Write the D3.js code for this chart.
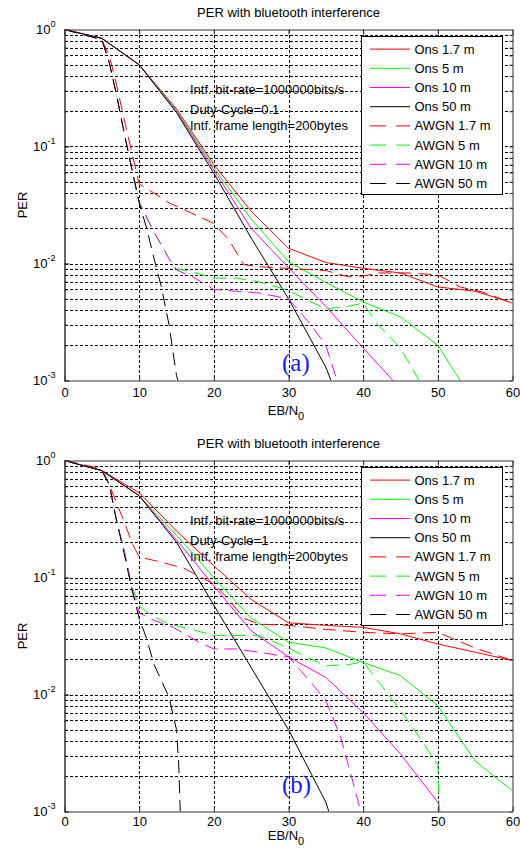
<!DOCTYPE html>
<html>
<head>
<meta charset="utf-8">
<script src="https://cdn.jsdelivr.net/npm/d3@7"></script>
<style>
  body { margin: 0; background: #fff; }
  svg { display: block; font-family: Arial, "Liberation Sans", sans-serif; }
</style>
</head>
<body>
<svg id="chart" width="520" height="850"></svg>
<script>
// axis values
const xTicks = [0, 10, 20, 30, 40, 50, 60];
const yDecades = [1e-3, 1e-2, 1e-1, 1];
const chartTitle = "PER with bluetooth interference";
const legendLabels = ["Ons 1.7 m", "Ons 5 m", "Ons 10 m", "Ons 50 m",
    "AWGN 1.7 m", "AWGN 5 m", "AWGN 10 m", "AWGN 50 m"];
const notesA = ["Intf. bit-rate=1000000bits/s", "Duty-Cycle=0.1", "Intf. frame length=200bytes"];
const notesB = ["Intf. bit-rate=1000000bits/s", "Duty-Cycle=1", "Intf. frame length=200bytes"];

// panel (a): [EB/N0, PER]
const perA_ons17 = [[0,1],[5,0.84],[10,0.5],[15,0.21],[20,0.07],[25,0.028],[30,0.0135],[35,0.0102],[40,0.0091],[45,0.0083],[50,0.0063],[55,0.0058],[60,0.0046]];
const perA_ons5 = [[0,1],[5,0.84],[10,0.5],[15,0.205],[20,0.066],[25,0.024],[30,0.0104],[35,0.0069],[40,0.0047],[45,0.0035],[50,0.002],[53,0.001]];
const perA_ons10 = [[0,1],[5,0.84],[10,0.5],[15,0.2],[20,0.063],[25,0.02],[30,0.0092],[35,0.0043],[40,0.0019],[44,0.001]];
const perA_ons50 = [[0,1],[5,0.84],[10,0.5],[15,0.195],[20,0.059],[25,0.0165],[30,0.005],[35,0.0013],[35.7,0.001]];
const perA_awgn17 = [[0,1],[5,0.82],[6,0.6],[7,0.33],[8,0.17],[9,0.09],[10,0.048],[12,0.04],[14,0.033],[17,0.027],[20,0.022],[22,0.016],[24,0.0098],[26,0.0094],[31,0.009],[35,0.0087],[38,0.0077],[40,0.0078],[42,0.0083],[46,0.0083],[50,0.008],[53,0.0063],[56,0.0057],[60,0.0046]];
const perA_awgn5 = [[0,1],[5,0.82],[6,0.52],[7,0.27],[8,0.13],[9,0.066],[10,0.034],[12,0.0185],[14,0.011],[15,0.009],[17,0.0085],[20,0.0075],[23,0.0075],[26,0.007],[30,0.0059],[33,0.0047],[35,0.0041],[38,0.0043],[40,0.0046],[42,0.003],[45,0.0019],[47.5,0.001]];
const perA_awgn10 = [[0,1],[5,0.82],[6,0.52],[7,0.27],[8,0.13],[9,0.065],[10,0.033],[12,0.0185],[14,0.011],[15,0.0088],[17,0.0078],[20,0.006],[26,0.0056],[30,0.005],[33,0.003],[35,0.002],[36.5,0.001]];
const perA_awgn50 = [[0,1],[5,0.82],[6,0.52],[7,0.27],[8,0.13],[9,0.065],[10,0.033],[11,0.02],[12,0.011],[13,0.0062],[14,0.003],[15,0.0011],[15.2,0.001]];

// panel (b)
const perB_ons17 = [[0,1],[5,0.82],[10,0.53],[15,0.25],[20,0.126],[25,0.065],[30,0.041],[35,0.039],[40,0.0375],[45,0.033],[50,0.027],[55,0.023],[60,0.0195]];
const perB_ons5 = [[0,1],[5,0.82],[10,0.5],[15,0.23],[20,0.1],[25,0.045],[30,0.028],[35,0.025],[40,0.0188],[45,0.0145],[50,0.008],[55,0.0027],[60,0.0015]];
const perB_ons10 = [[0,1],[5,0.82],[10,0.5],[15,0.21],[20,0.085],[25,0.035],[30,0.021],[35,0.014],[40,0.007],[45,0.0031],[50,0.0012],[50.3,0.001]];
const perB_ons50 = [[0,1],[5,0.82],[10,0.5],[15,0.2],[20,0.058],[25,0.017],[30,0.005],[35,0.0012],[35.4,0.001]];
const perB_awgn17 = [[0,1],[5,0.85],[6,0.62],[7,0.43],[8,0.3],[9,0.2],[10,0.15],[13,0.135],[16,0.12],[20,0.088],[22,0.065],[24,0.045],[26,0.04],[30,0.039],[35,0.036],[40,0.034],[45,0.033],[50,0.034],[52,0.03],[55,0.025],[60,0.0195]];
const perB_awgn5 = [[0,1],[5,0.82],[6,0.62],[7,0.3],[8,0.17],[9,0.085],[10,0.057],[12,0.046],[14,0.04],[17,0.036],[20,0.032],[26,0.032],[30,0.025],[32,0.0215],[35,0.0176],[38,0.018],[40,0.019],[42,0.013],[44,0.0089],[46.5,0.0054],[48,0.0039],[50,0.0025],[50.2,0.001]];
const perB_awgn10 = [[0,1],[5,0.82],[6,0.62],[7,0.3],[8,0.17],[9,0.082],[10,0.05],[12,0.043],[14.6,0.0375],[18,0.028],[20,0.0245],[23,0.0245],[26,0.023],[30,0.021],[33,0.0127],[35,0.0089],[37,0.0043],[38,0.0025],[39.7,0.001]];
const perB_awgn50 = [[0,1],[5,0.82],[6,0.62],[7,0.3],[8,0.16],[9,0.08],[10,0.045],[11,0.03],[12,0.018],[13,0.013],[14,0.0095],[15,0.005],[15.3,0.0025],[15.5,0.001]];

// styles
const seriesColors = ["#ff0000", "#00ff00", "#ff00ff", "#000000"];
const dashPattern = "13,7";

const svg = d3.select("#chart");

function styleAxis(sel) {
    sel.select(".domain").attr("stroke", "#333");
    sel.selectAll(".tick line").attr("stroke", "#333");
    sel.selectAll("text").attr("font-size", 13).attr("fill", "#000")
        .style("font-family", "Arial, 'Liberation Sans', sans-serif");
}

function drawPanel(panel) {
    const top = panel.top, bottom = panel.top + 351;
    const x = d3.scaleLinear().domain([0, 60]).range([64.5, 512.5]);
    const y = d3.scaleLog().domain([1e-3, 1]).range([bottom, top]);
    const g = svg.append("g");

    const yMinor = d3.range(-3, 0).flatMap(k => d3.range(1, 10).map(m => +(m * Math.pow(10, k)).toPrecision(3)));
    const clipId = "clip-" + panel.tag.replace(/\W/g, "");

    g.append("clipPath").attr("id", clipId)
        .append("rect").attr("x", x(0)).attr("y", top).attr("width", x(60) - x(0)).attr("height", bottom - top);

    // title
    g.append("text").attr("x", 288.5).attr("y", top - 12.5).attr("text-anchor", "middle")
        .attr("font-size", 13).text(chartTitle);

    // grid
    const grid = g.append("g").attr("stroke", "#000").attr("stroke-dasharray", "3,2").attr("shape-rendering", "crispEdges");
    grid.selectAll("line.h").data(yMinor.filter(v => v > 1e-3)).join("line").attr("class", "h")
        .attr("x1", x(0)).attr("x2", x(60))
        .attr("y1", d => Math.round(y(d)) + 0.5).attr("y2", d => Math.round(y(d)) + 0.5);
    grid.selectAll("line.v").data(xTicks.slice(1, -1)).join("line").attr("class", "v")
        .attr("x1", d => Math.round(x(d)) + 0.5).attr("x2", d => Math.round(x(d)) + 0.5)
        .attr("y1", top).attr("y2", bottom);

    // notes
    g.append("g").selectAll("text").data(panel.notes).join("text")
        .attr("x", 190).attr("y", (d, i) => top + [64.5, 84.5, 100][i])
        .attr("font-size", 13).text(d => d);

    // curves
    const line = d3.line().x(d => x(d[0])).y(d => y(d[1]));
    g.append("g").attr("clip-path", `url(#${clipId})`)
        .selectAll("path").data(panel.series).join("path")
        .attr("fill", "none")
        .attr("stroke", (d, i) => seriesColors[i % 4])
        .attr("stroke-width", 1)
        .attr("stroke-dasharray", (d, i) => i >= 4 ? dashPattern : null)
        .attr("d", line);

    // axes
    const axB = g.append("g").attr("transform", `translate(0,${bottom})`)
        .call(d3.axisBottom(x).tickValues(xTicks).tickSize(-5).tickSizeOuter(0).tickPadding(panel.tickPad));
    styleAxis(axB);
    const axT = g.append("g").attr("transform", `translate(0,${top})`)
        .call(d3.axisTop(x).tickValues(xTicks).tickSize(-5).tickSizeOuter(0).tickFormat(""));
    styleAxis(axT);
    const axLm = g.append("g").attr("transform", `translate(${x(0)},0)`)
        .call(d3.axisLeft(y).tickValues(yMinor).tickSize(-3).tickSizeOuter(0).tickFormat(""));
    styleAxis(axLm);
    const axRm = g.append("g").attr("transform", `translate(${x(60)},0)`)
        .call(d3.axisRight(y).tickValues(yMinor).tickSize(-3).tickSizeOuter(0).tickFormat(""));
    styleAxis(axRm);
    const axL = g.append("g").attr("transform", `translate(${x(0)},0)`)
        .call(d3.axisLeft(y).tickValues(yDecades).tickSize(-5).tickSizeOuter(0).tickPadding(9));
    styleAxis(axL);
    axL.selectAll("text").each(function (d) {
        const t = d3.select(this);
        t.text("10");
        t.append("tspan").attr("dy", -7).attr("font-size", 9).text(Math.round(Math.log10(d)));
    });

    // axis labels
    g.append("text").attr("transform", `translate(27,${(top + bottom) / 2}) rotate(-90)`)
        .attr("text-anchor", "middle").attr("font-size", 13).text("PER");
    const xl = g.append("text").attr("x", 286).attr("y", bottom + panel.xLabelOff)
        .attr("text-anchor", "middle").attr("font-size", 13).text("EB/N");
    xl.append("tspan").attr("dy", 5).attr("font-size", 11).text("0");

    // panel tag
    g.append("text").attr("x", 282).attr("y", bottom + panel.tagOff)
        .style("font-family", "'Liberation Serif', 'Times New Roman', serif")
        .attr("font-size", 25).attr("fill", "#1c1cf0").text(panel.tag);

    // legend
    const lg = g.append("g").attr("transform", `translate(361.5,${top + 7})`);
    lg.append("rect").attr("width", 141).attr("height", 158)
        .attr("fill", "#fff").attr("stroke", "#000").attr("shape-rendering", "crispEdges");
    const rows = lg.selectAll("g.row").data(legendLabels).join("g").attr("class", "row")
        .attr("transform", (d, i) => `translate(0,${12.6 + 19.2 * i})`);
    rows.append("line").attr("x1", 8.5).attr("x2", 48.5)
        .attr("stroke", (d, i) => seriesColors[i % 4])
        .attr("stroke-dasharray", (d, i) => i >= 4 ? "16,10" : null);
    rows.append("text").attr("x", 53).attr("dy", "0.35em").attr("font-size", 13).text(d => d);
}

drawPanel({
    top: 29.5, tag: "(a)", notes: notesA, tickPad: 7, xLabelOff: 34.5, tagOff: -10,
    series: [perA_ons17, perA_ons5, perA_ons10, perA_ons50, perA_awgn17, perA_awgn5, perA_awgn10, perA_awgn50]
});
drawPanel({
    top: 460.5, tag: "(b)", notes: notesB, tickPad: 5, xLabelOff: 28, tagOff: -18.5,
    series: [perB_ons17, perB_ons5, perB_ons10, perB_ons50, perB_awgn17, perB_awgn5, perB_awgn10, perB_awgn50]
});
</script>
</body>
</html>
